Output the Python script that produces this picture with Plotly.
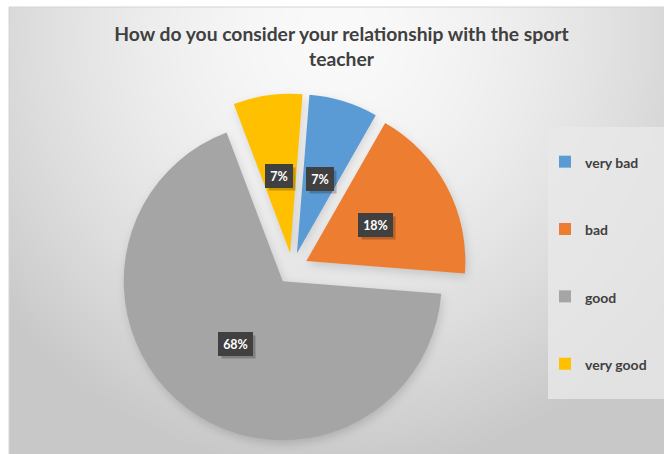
import math
import zlib
import struct
import base64
import numpy as np
import plotly.graph_objects as go

# ---------------- data ----------------
categories = ["very bad", "bad", "good", "very good"]
percentages = [7, 18, 68, 7]
colors = ["#5B9BD5", "#ED7D31", "#A5A5A5", "#FFC000"]
title_text = "How do you consider your relationship with the sport<br>teacher"

# ---------------- layout constants ----------------
W, H = 664, 454
ROT = 4.5          # first slice start angle (deg, clockwise from 12 o'clock)
PULL = 0.1
DOM_X = [0.1768, 0.7036]
DOM_Y = [0.0233, 0.7938]
LABEL_R = 0.49     # label distance from slice apex, fraction of radius
FONT = "Lato"
TXT = "#404040"

# pie geometry (same formula plotly uses to size the pie in its domain)
cx = W * (DOM_X[0] + DOM_X[1]) / 2
cy = H * (1 - (DOM_Y[0] + DOM_Y[1]) / 2)
r = min(W * (DOM_X[1] - DOM_X[0]), H * (DOM_Y[1] - DOM_Y[0])) / 2 / (1 + PULL)
total = sum(percentages)
slices = []
start = ROT
for v in percentages:
    span = 360.0 * v / total
    slices.append((start, span, start + span / 2))
    start += span


# ---------------- background gradient + soft shadow (PNG data URI) ----------------
def png_gray(arr):
    h, w = arr.shape
    raw = b"".join(b"\x00" + arr[i].tobytes() for i in range(h))

    def chunk(t, d):
        c = struct.pack(">I", len(d)) + t + d
        return c + struct.pack(">I", zlib.crc32(t + d) & 0xFFFFFFFF)

    ihdr = struct.pack(">IIBBBBB", w, h, 8, 0, 0, 0, 0)
    return (b"\x89PNG\r\n\x1a\n" + chunk(b"IHDR", ihdr)
            + chunk(b"IDAT", zlib.compress(raw, 9)) + chunk(b"IEND", b""))


def box_blur(a, k, axis):
    pad = k // 2
    ap = np.pad(a, [(pad, pad) if i == axis else (0, 0) for i in range(2)], mode="edge")
    c = np.cumsum(ap, axis=axis)
    c = np.insert(c, 0, 0, axis=axis)
    n = a.shape[axis]
    if axis == 0:
        return (c[k:k + n] - c[0:n]) / k
    return (c[:, k:k + n] - c[:, 0:n]) / k


bx0, by0 = 9, 7
bw, bh = W - bx0, H - by0
yy, xx = np.mgrid[0:bh, 0:bw].astype(float)
xx = xx + bx0
yy = yy + by0
d = np.sqrt(((xx - 335) / 430.0) ** 2 + ((yy - 35) / 440.0) ** 2)
d = np.clip(d, 0, 1)
val = 250 - 50 * d ** 1.6

SHX, SHY = 1.0, 3.0
mask = np.zeros_like(val)
for a0, span, mid in slices:
    m = math.radians(mid)
    ax = cx + PULL * r * math.sin(m) + SHX
    ay = cy - PULL * r * math.cos(m) + SHY
    dx, dy = xx - ax, yy - ay
    rr = np.hypot(dx, dy)
    ang = np.degrees(np.arctan2(dx, -dy)) % 360
    inside = (rr <= r) & (((ang - a0) % 360) <= span)
    mask = np.maximum(mask, inside.astype(float))
blur = mask
for _ in range(3):
    blur = box_blur(blur, 9, 0)
    blur = box_blur(blur, 9, 1)
val = val - 32 * blur

bg = np.clip(val, 0, 255).astype(np.uint8)
bg_uri = "data:image/png;base64," + base64.b64encode(png_gray(bg)).decode()

# ---------------- figure ----------------
legend_labels = [f" <br><span style='font-size:14px'>{c}</span><br> " for c in categories]

fig = go.Figure(go.Pie(
    labels=legend_labels,
    values=percentages,
    marker=dict(colors=colors, line=dict(width=0)),
    sort=False,
    direction="clockwise",
    rotation=ROT,
    pull=[PULL] * len(percentages),
    textinfo="none",
    domain=dict(x=DOM_X, y=DOM_Y),
    hoverinfo="skip",
))

# data labels placed from the pie geometry
annotations = []
for v, (a0, span, mid) in zip(percentages, slices):
    m = math.radians(mid)
    dist = (PULL + LABEL_R) * r
    px = cx + dist * math.sin(m)
    py = cy - dist * math.cos(m)
    label = f"{v}%"
    box_w = 7 * len(label) + 4
    common = dict(x=px / W, y=1 - py / H, xref="paper", yref="paper", showarrow=False,
                  xanchor="center", yanchor="middle", borderpad=4, borderwidth=1,
                  width=box_w, height=14)
    # drop shadow (box only)
    annotations.append(dict(text=" ", bgcolor="rgba(0,0,0,0.22)",
                            bordercolor="rgba(0,0,0,0)", xshift=3, yshift=-3,
                            font=dict(family=FONT, size=12.5, color="rgba(0,0,0,0)"),
                            **common))
    annotations.append(dict(text=label, bgcolor="#404040", bordercolor="#404040",
                            font=dict(family=FONT, size=12.5, color="white", weight="bold"),
                            **common))

fig.update_layout(
    width=W, height=H,
    margin=dict(l=0, r=0, t=0, b=0),
    paper_bgcolor="white",
    plot_bgcolor="white",
    title=dict(text=title_text, x=341.5 / W, xanchor="center", y=1 - 40.5 / H, yanchor="middle",
               font=dict(family=FONT, size=19.3, color=TXT, weight="bold")),
    images=[dict(source=bg_uri, xref="paper", yref="paper", x=bx0 / W, y=1 - by0 / H,
                 sizex=bw / W, sizey=bh / H, sizing="stretch", xanchor="left",
                 yanchor="top", layer="below")],
    shapes=[
        dict(type="rect", xref="paper", yref="paper", x0=bx0 / W, x1=1.01, y0=-0.01, y1=1 - by0 / H,
             line=dict(color="#d4d4d4", width=1), fillcolor="rgba(0,0,0,0)", layer="below"),
        dict(type="rect", xref="paper", yref="paper", x0=548 / W, x1=1.01, y0=1 - 399 / H, y1=1 - 127 / H,
             line=dict(width=0), fillcolor="rgba(232,232,232,0.8)", layer="below"),
    ],
    legend=dict(x=545 / W, xanchor="left", y=1 - 123 / H, yanchor="top",
                bgcolor="rgba(0,0,0,0)", borderwidth=0,
                font=dict(family=FONT, size=16.5, color=TXT, weight="bold")),
    annotations=annotations,
)

fig.write_html("out.html", config={"displayModeBar": False},
               post_script="document.body.style.margin='0';")
